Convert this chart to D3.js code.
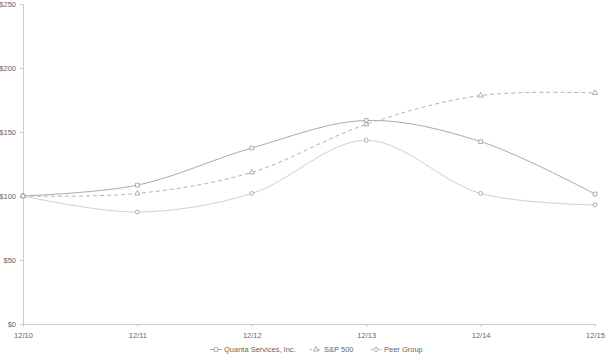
<!DOCTYPE html>
<html><head><meta charset="utf-8">
<script src="https://cdn.jsdelivr.net/npm/d3@7"></script>
<style>body{margin:0;background:#fff}svg{display:block}text{font-family:"Liberation Sans",Arial,sans-serif}</style>
</head><body>
<svg id="c" width="605" height="357"></svg>
<script>
const categories = ["12/10","12/11","12/12","12/13","12/14","12/15"];
const quanta = [100, 108.5, 137.5, 159, 142.5, 101.5];
const sp500 = [100, 102, 118.5, 156, 178.5, 180.5];
const peer = [100, 87.5, 102, 143.5, 102, 93];
const yTicks = [0, 50, 100, 150, 200, 250];
const seriesNames = ["Quanta Services, Inc.", "S&P 500", "Peer Group"];

const svg = d3.select("#c");
const x = d3.scalePoint().domain(categories).range([23, 595]);
const y = d3.scaleLinear().domain([0, 250]).range([324, 4]);
const axisColor = "#cccccc", textColor = "#666";

const yAxis = svg.append("g").attr("transform","translate(23,0)")
  .call(d3.axisLeft(y).tickValues(yTicks).tickSize(3).tickPadding(4).tickFormat(d => "$" + d));
const xAxis = svg.append("g").attr("transform","translate(0,324)")
  .call(d3.axisBottom(x).tickSize(3).tickPadding(6));
[yAxis, xAxis].forEach(a => {
  a.select(".domain").attr("stroke", axisColor);
  a.selectAll(".tick line").attr("stroke", axisColor);
  a.selectAll("text").attr("fill", textColor).style("font-size", "7.5px").style("font-family","'Liberation Sans',Arial,sans-serif");
});

const series = [
  {name: seriesNames[0], values: quanta, color: "#aaaaaa", dash: null, marker: "square"},
  {name: seriesNames[1], values: sp500, color: "#b4b4b4", dash: "4,3", marker: "triangle"},
  {name: seriesNames[2], values: peer, color: "#d0d0d0", dash: null, marker: "circle"}
];
const line = d3.line().x((d,i) => x(categories[i])).y(d => y(d)).curve(d3.curveCatmullRom.alpha(0.5));
const sym = {square: d3.symbolSquare, triangle: d3.symbolTriangle, circle: d3.symbolCircle};
const sz = {square: 14, triangle: 12, circle: 12};

series.forEach(s => {
  svg.append("path").datum(s.values).attr("d", line).attr("fill","none")
    .attr("stroke", s.color).attr("stroke-width", 1).attr("stroke-dasharray", s.dash);
  svg.append("g").selectAll("path").data(s.values).join("path")
    .attr("transform", (d,i) => `translate(${x(categories[i])},${y(d)})`)
    .attr("d", d3.symbol().type(sym[s.marker]).size(sz[s.marker]))
    .attr("fill", "#fff").attr("stroke", "#999").attr("stroke-width", 0.8);
});

// legend
const legX = [210, 310, 370];
const legY = 352;
series.forEach((s, i) => {
  const g = svg.append("g").attr("transform", `translate(${legX[i]},${legY})`);
  g.append("line").attr("x1",0).attr("x2",12).attr("y1",-2.5).attr("y2",-2.5)
    .attr("stroke", s.color).attr("stroke-dasharray", s.dash ? "2,2" : null);
  g.append("path").attr("transform","translate(6,-2.5)")
    .attr("d", d3.symbol().type(sym[s.marker]).size(sz[s.marker]))
    .attr("fill","#fff").attr("stroke", "#999").attr("stroke-width",0.8);
  g.append("text").attr("x", 14).attr("y", 0).attr("fill", textColor)
    .style("font-size","7.5px").text(s.name);
});
</script>
</body></html>
